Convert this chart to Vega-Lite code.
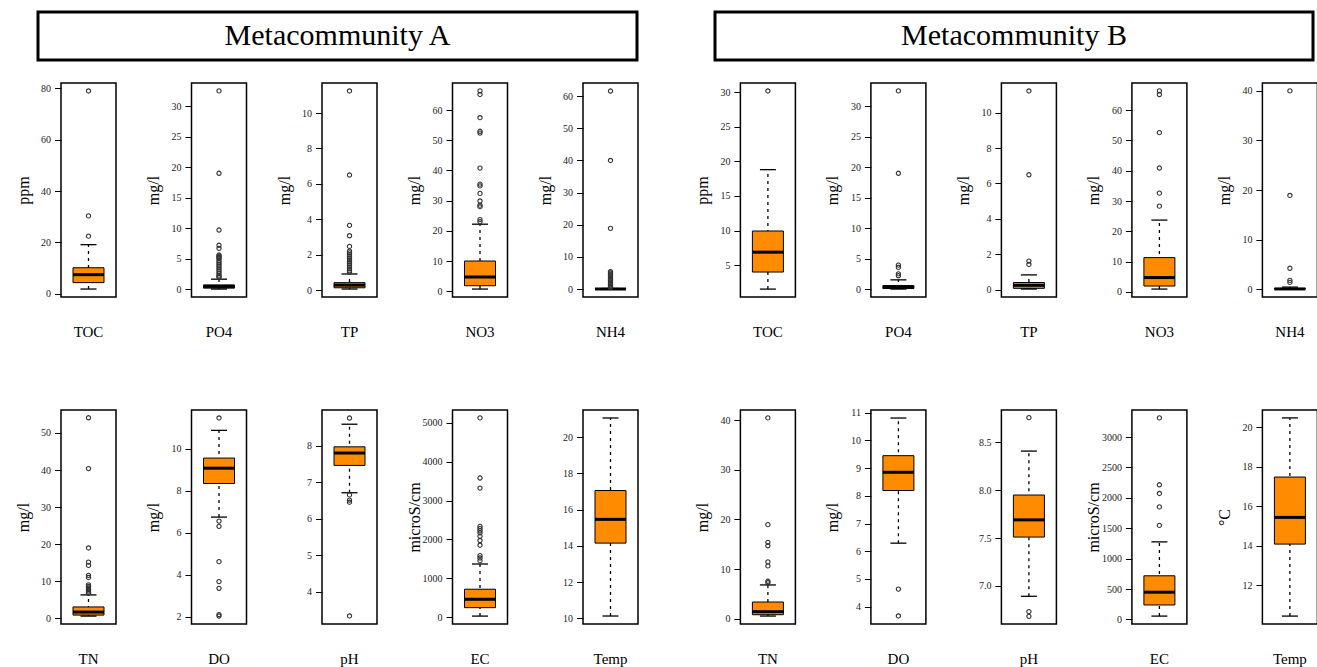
{
"$schema": "https://vega.github.io/schema/vega-lite/v6.json",
"padding": {"left": 14, "top": 10, "right": 0, "bottom": 0},
"background": "white",
"datasets": {"box": [
{"group":"A","variable":"TOC","part":"range","value":1.8,"value2":19.1},
{"group":"A","variable":"TOC","part":"box","value":4.3,"value2":10.1},
{"group":"A","variable":"TOC","part":"median","value":7.4},
{"group":"A","variable":"TOC","part":"cap","value":1.8},
{"group":"A","variable":"TOC","part":"cap","value":19.1},
{"group":"A","variable":"TOC","part":"outlier","value":79.0},
{"group":"A","variable":"TOC","part":"outlier","value":30.3},
{"group":"A","variable":"TOC","part":"outlier","value":22.4},
{"group":"A","variable":"PO4","part":"range","value":0.02,"value2":1.64},
{"group":"A","variable":"PO4","part":"box","value":0.17,"value2":0.7},
{"group":"A","variable":"PO4","part":"median","value":0.45},
{"group":"A","variable":"PO4","part":"cap","value":0.02},
{"group":"A","variable":"PO4","part":"cap","value":1.64},
{"group":"A","variable":"PO4","part":"outlier","value":32.5},
{"group":"A","variable":"PO4","part":"outlier","value":19.0},
{"group":"A","variable":"PO4","part":"outlier","value":9.7},
{"group":"A","variable":"PO4","part":"outlier","value":7.2},
{"group":"A","variable":"PO4","part":"outlier","value":6.7},
{"group":"A","variable":"PO4","part":"outlier","value":5.6},
{"group":"A","variable":"PO4","part":"outlier","value":5.4},
{"group":"A","variable":"PO4","part":"outlier","value":5.2},
{"group":"A","variable":"PO4","part":"outlier","value":5.0},
{"group":"A","variable":"PO4","part":"outlier","value":4.7},
{"group":"A","variable":"PO4","part":"outlier","value":4.4},
{"group":"A","variable":"PO4","part":"outlier","value":4.1},
{"group":"A","variable":"PO4","part":"outlier","value":3.8},
{"group":"A","variable":"PO4","part":"outlier","value":3.5},
{"group":"A","variable":"PO4","part":"outlier","value":3.2},
{"group":"A","variable":"PO4","part":"outlier","value":2.9},
{"group":"A","variable":"PO4","part":"outlier","value":2.6},
{"group":"A","variable":"PO4","part":"outlier","value":2.3},
{"group":"A","variable":"PO4","part":"outlier","value":2.1},
{"group":"A","variable":"PO4","part":"outlier","value":1.9},
{"group":"A","variable":"TP","part":"range","value":0.06,"value2":0.91},
{"group":"A","variable":"TP","part":"box","value":0.13,"value2":0.42},
{"group":"A","variable":"TP","part":"median","value":0.28},
{"group":"A","variable":"TP","part":"cap","value":0.06},
{"group":"A","variable":"TP","part":"cap","value":0.91},
{"group":"A","variable":"TP","part":"outlier","value":11.25},
{"group":"A","variable":"TP","part":"outlier","value":6.5},
{"group":"A","variable":"TP","part":"outlier","value":3.66},
{"group":"A","variable":"TP","part":"outlier","value":3.07},
{"group":"A","variable":"TP","part":"outlier","value":2.47},
{"group":"A","variable":"TP","part":"outlier","value":2.2},
{"group":"A","variable":"TP","part":"outlier","value":2.1},
{"group":"A","variable":"TP","part":"outlier","value":2.0},
{"group":"A","variable":"TP","part":"outlier","value":1.9},
{"group":"A","variable":"TP","part":"outlier","value":1.8},
{"group":"A","variable":"TP","part":"outlier","value":1.7},
{"group":"A","variable":"TP","part":"outlier","value":1.6},
{"group":"A","variable":"TP","part":"outlier","value":1.5},
{"group":"A","variable":"TP","part":"outlier","value":1.4},
{"group":"A","variable":"TP","part":"outlier","value":1.3},
{"group":"A","variable":"TP","part":"outlier","value":1.2},
{"group":"A","variable":"TP","part":"outlier","value":1.1},
{"group":"A","variable":"TP","part":"outlier","value":1.0},
{"group":"A","variable":"NO3","part":"range","value":0.7,"value2":22.2},
{"group":"A","variable":"NO3","part":"box","value":1.8,"value2":10.0},
{"group":"A","variable":"NO3","part":"median","value":4.7},
{"group":"A","variable":"NO3","part":"cap","value":0.7},
{"group":"A","variable":"NO3","part":"cap","value":22.2},
{"group":"A","variable":"NO3","part":"outlier","value":66.4},
{"group":"A","variable":"NO3","part":"outlier","value":65.2},
{"group":"A","variable":"NO3","part":"outlier","value":57.5},
{"group":"A","variable":"NO3","part":"outlier","value":53.0},
{"group":"A","variable":"NO3","part":"outlier","value":52.4},
{"group":"A","variable":"NO3","part":"outlier","value":40.8},
{"group":"A","variable":"NO3","part":"outlier","value":35.5},
{"group":"A","variable":"NO3","part":"outlier","value":34.9},
{"group":"A","variable":"NO3","part":"outlier","value":32.4},
{"group":"A","variable":"NO3","part":"outlier","value":29.9},
{"group":"A","variable":"NO3","part":"outlier","value":28.5},
{"group":"A","variable":"NO3","part":"outlier","value":28.0},
{"group":"A","variable":"NO3","part":"outlier","value":23.7},
{"group":"A","variable":"NO3","part":"outlier","value":23.0},
{"group":"A","variable":"NH4","part":"range","value":0.0,"value2":0.18},
{"group":"A","variable":"NH4","part":"box","value":0.01,"value2":0.08},
{"group":"A","variable":"NH4","part":"median","value":0.03},
{"group":"A","variable":"NH4","part":"cap","value":0.0},
{"group":"A","variable":"NH4","part":"cap","value":0.18},
{"group":"A","variable":"NH4","part":"outlier","value":61.6},
{"group":"A","variable":"NH4","part":"outlier","value":40.0},
{"group":"A","variable":"NH4","part":"outlier","value":18.9},
{"group":"A","variable":"NH4","part":"outlier","value":5.4},
{"group":"A","variable":"NH4","part":"outlier","value":5.0},
{"group":"A","variable":"NH4","part":"outlier","value":4.6},
{"group":"A","variable":"NH4","part":"outlier","value":4.2},
{"group":"A","variable":"NH4","part":"outlier","value":3.8},
{"group":"A","variable":"NH4","part":"outlier","value":3.4},
{"group":"A","variable":"NH4","part":"outlier","value":3.0},
{"group":"A","variable":"NH4","part":"outlier","value":2.6},
{"group":"A","variable":"NH4","part":"outlier","value":2.2},
{"group":"A","variable":"NH4","part":"outlier","value":1.8},
{"group":"A","variable":"NH4","part":"outlier","value":1.4},
{"group":"A","variable":"NH4","part":"outlier","value":1.0},
{"group":"A","variable":"NH4","part":"outlier","value":0.7},
{"group":"A","variable":"NH4","part":"outlier","value":0.45},
{"group":"B","variable":"TOC","part":"range","value":1.57,"value2":18.8},
{"group":"B","variable":"TOC","part":"box","value":4.03,"value2":9.95},
{"group":"B","variable":"TOC","part":"median","value":6.9},
{"group":"B","variable":"TOC","part":"cap","value":1.57},
{"group":"B","variable":"TOC","part":"cap","value":18.8},
{"group":"B","variable":"TOC","part":"outlier","value":30.15},
{"group":"B","variable":"PO4","part":"range","value":0.02,"value2":1.53},
{"group":"B","variable":"PO4","part":"box","value":0.11,"value2":0.6},
{"group":"B","variable":"PO4","part":"median","value":0.33},
{"group":"B","variable":"PO4","part":"cap","value":0.02},
{"group":"B","variable":"PO4","part":"cap","value":1.53},
{"group":"B","variable":"PO4","part":"outlier","value":32.5},
{"group":"B","variable":"PO4","part":"outlier","value":19.0},
{"group":"B","variable":"PO4","part":"outlier","value":3.94},
{"group":"B","variable":"PO4","part":"outlier","value":3.56},
{"group":"B","variable":"PO4","part":"outlier","value":2.5},
{"group":"B","variable":"PO4","part":"outlier","value":2.2},
{"group":"B","variable":"TP","part":"range","value":0.03,"value2":0.83},
{"group":"B","variable":"TP","part":"box","value":0.07,"value2":0.4},
{"group":"B","variable":"TP","part":"median","value":0.24},
{"group":"B","variable":"TP","part":"cap","value":0.03},
{"group":"B","variable":"TP","part":"cap","value":0.83},
{"group":"B","variable":"TP","part":"outlier","value":11.23},
{"group":"B","variable":"TP","part":"outlier","value":6.49},
{"group":"B","variable":"TP","part":"outlier","value":1.61},
{"group":"B","variable":"TP","part":"outlier","value":1.42},
{"group":"B","variable":"NO3","part":"range","value":0.9,"value2":23.7},
{"group":"B","variable":"NO3","part":"box","value":1.9,"value2":11.3},
{"group":"B","variable":"NO3","part":"median","value":4.7},
{"group":"B","variable":"NO3","part":"cap","value":0.9},
{"group":"B","variable":"NO3","part":"cap","value":23.7},
{"group":"B","variable":"NO3","part":"outlier","value":66.4},
{"group":"B","variable":"NO3","part":"outlier","value":65.2},
{"group":"B","variable":"NO3","part":"outlier","value":52.6},
{"group":"B","variable":"NO3","part":"outlier","value":40.9},
{"group":"B","variable":"NO3","part":"outlier","value":32.6},
{"group":"B","variable":"NO3","part":"outlier","value":28.3},
{"group":"B","variable":"NH4","part":"range","value":0.0,"value2":0.4},
{"group":"B","variable":"NH4","part":"box","value":0.01,"value2":0.12},
{"group":"B","variable":"NH4","part":"median","value":0.03},
{"group":"B","variable":"NH4","part":"cap","value":0.0},
{"group":"B","variable":"NH4","part":"cap","value":0.4},
{"group":"B","variable":"NH4","part":"outlier","value":40.0},
{"group":"B","variable":"NH4","part":"outlier","value":18.9},
{"group":"B","variable":"NH4","part":"outlier","value":4.2},
{"group":"B","variable":"NH4","part":"outlier","value":1.75},
{"group":"B","variable":"NH4","part":"outlier","value":1.35},
{"group":"A","variable":"TN","part":"range","value":0.63,"value2":6.34},
{"group":"A","variable":"TN","part":"box","value":0.9,"value2":3.1},
{"group":"A","variable":"TN","part":"median","value":1.72},
{"group":"A","variable":"TN","part":"cap","value":0.63},
{"group":"A","variable":"TN","part":"cap","value":6.34},
{"group":"A","variable":"TN","part":"outlier","value":54.1},
{"group":"A","variable":"TN","part":"outlier","value":40.4},
{"group":"A","variable":"TN","part":"outlier","value":19.0},
{"group":"A","variable":"TN","part":"outlier","value":15.2},
{"group":"A","variable":"TN","part":"outlier","value":14.3},
{"group":"A","variable":"TN","part":"outlier","value":11.6},
{"group":"A","variable":"TN","part":"outlier","value":11.05},
{"group":"A","variable":"TN","part":"outlier","value":9.06},
{"group":"A","variable":"TN","part":"outlier","value":8.6},
{"group":"A","variable":"TN","part":"outlier","value":8.2},
{"group":"A","variable":"TN","part":"outlier","value":7.8},
{"group":"A","variable":"TN","part":"outlier","value":7.4},
{"group":"A","variable":"TN","part":"outlier","value":7.0},
{"group":"A","variable":"TN","part":"outlier","value":6.8},
{"group":"A","variable":"DO","part":"range","value":6.74,"value2":10.87},
{"group":"A","variable":"DO","part":"box","value":8.34,"value2":9.55},
{"group":"A","variable":"DO","part":"median","value":9.07},
{"group":"A","variable":"DO","part":"cap","value":6.74},
{"group":"A","variable":"DO","part":"cap","value":10.87},
{"group":"A","variable":"DO","part":"outlier","value":11.46},
{"group":"A","variable":"DO","part":"outlier","value":6.55},
{"group":"A","variable":"DO","part":"outlier","value":6.3},
{"group":"A","variable":"DO","part":"outlier","value":4.62},
{"group":"A","variable":"DO","part":"outlier","value":3.67},
{"group":"A","variable":"DO","part":"outlier","value":3.35},
{"group":"A","variable":"DO","part":"outlier","value":2.1},
{"group":"A","variable":"DO","part":"outlier","value":2.03},
{"group":"A","variable":"pH","part":"range","value":6.71,"value2":8.59},
{"group":"A","variable":"pH","part":"box","value":7.46,"value2":7.97},
{"group":"A","variable":"pH","part":"median","value":7.8},
{"group":"A","variable":"pH","part":"cap","value":6.71},
{"group":"A","variable":"pH","part":"cap","value":8.59},
{"group":"A","variable":"pH","part":"outlier","value":8.76},
{"group":"A","variable":"pH","part":"outlier","value":6.65},
{"group":"A","variable":"pH","part":"outlier","value":6.51},
{"group":"A","variable":"pH","part":"outlier","value":6.45},
{"group":"A","variable":"pH","part":"outlier","value":3.33},
{"group":"A","variable":"EC","part":"range","value":34,"value2":1371},
{"group":"A","variable":"EC","part":"box","value":250,"value2":724},
{"group":"A","variable":"EC","part":"median","value":466},
{"group":"A","variable":"EC","part":"cap","value":34},
{"group":"A","variable":"EC","part":"cap","value":1371},
{"group":"A","variable":"EC","part":"outlier","value":5121},
{"group":"A","variable":"EC","part":"outlier","value":3578},
{"group":"A","variable":"EC","part":"outlier","value":3319},
{"group":"A","variable":"EC","part":"outlier","value":2336},
{"group":"A","variable":"EC","part":"outlier","value":2280},
{"group":"A","variable":"EC","part":"outlier","value":2225},
{"group":"A","variable":"EC","part":"outlier","value":2172},
{"group":"A","variable":"EC","part":"outlier","value":2086},
{"group":"A","variable":"EC","part":"outlier","value":1974},
{"group":"A","variable":"EC","part":"outlier","value":1853},
{"group":"A","variable":"EC","part":"outlier","value":1586},
{"group":"A","variable":"EC","part":"outlier","value":1526},
{"group":"A","variable":"EC","part":"outlier","value":1457},
{"group":"A","variable":"Temp","part":"range","value":10.13,"value2":21.05},
{"group":"A","variable":"Temp","part":"box","value":14.15,"value2":17.05},
{"group":"A","variable":"Temp","part":"median","value":15.46},
{"group":"A","variable":"Temp","part":"cap","value":10.13},
{"group":"A","variable":"Temp","part":"cap","value":21.05},
{"group":"B","variable":"TN","part":"range","value":0.54,"value2":6.81},
{"group":"B","variable":"TN","part":"box","value":0.81,"value2":3.37},
{"group":"B","variable":"TN","part":"median","value":1.42},
{"group":"B","variable":"TN","part":"cap","value":0.54},
{"group":"B","variable":"TN","part":"cap","value":6.81},
{"group":"B","variable":"TN","part":"outlier","value":40.46},
{"group":"B","variable":"TN","part":"outlier","value":18.95},
{"group":"B","variable":"TN","part":"outlier","value":15.4},
{"group":"B","variable":"TN","part":"outlier","value":14.7},
{"group":"B","variable":"TN","part":"outlier","value":11.46},
{"group":"B","variable":"TN","part":"outlier","value":10.65},
{"group":"B","variable":"TN","part":"outlier","value":7.55},
{"group":"B","variable":"TN","part":"outlier","value":7.25},
{"group":"B","variable":"DO","part":"range","value":6.29,"value2":10.81},
{"group":"B","variable":"DO","part":"box","value":8.19,"value2":9.45},
{"group":"B","variable":"DO","part":"median","value":8.85},
{"group":"B","variable":"DO","part":"cap","value":6.29},
{"group":"B","variable":"DO","part":"cap","value":10.81},
{"group":"B","variable":"DO","part":"outlier","value":4.63},
{"group":"B","variable":"DO","part":"outlier","value":3.66},
{"group":"B","variable":"pH","part":"range","value":6.89,"value2":8.41},
{"group":"B","variable":"pH","part":"box","value":7.51,"value2":7.95},
{"group":"B","variable":"pH","part":"median","value":7.69},
{"group":"B","variable":"pH","part":"cap","value":6.89},
{"group":"B","variable":"pH","part":"cap","value":8.41},
{"group":"B","variable":"pH","part":"outlier","value":8.76},
{"group":"B","variable":"pH","part":"outlier","value":6.73},
{"group":"B","variable":"pH","part":"outlier","value":6.68},
{"group":"B","variable":"EC","part":"range","value":55,"value2":1276},
{"group":"B","variable":"EC","part":"box","value":238,"value2":718},
{"group":"B","variable":"EC","part":"median","value":448},
{"group":"B","variable":"EC","part":"cap","value":55},
{"group":"B","variable":"EC","part":"cap","value":1276},
{"group":"B","variable":"EC","part":"outlier","value":3315},
{"group":"B","variable":"EC","part":"outlier","value":2215},
{"group":"B","variable":"EC","part":"outlier","value":2072},
{"group":"B","variable":"EC","part":"outlier","value":1851},
{"group":"B","variable":"EC","part":"outlier","value":1547},
{"group":"B","variable":"Temp","part":"range","value":10.44,"value2":20.46},
{"group":"B","variable":"Temp","part":"box","value":14.08,"value2":17.47},
{"group":"B","variable":"Temp","part":"median","value":15.43},
{"group":"B","variable":"Temp","part":"cap","value":10.44},
{"group":"B","variable":"Temp","part":"cap","value":20.46}
]},
"spacing": 20,
"vconcat": [
{"spacing": 74, "hconcat": [
  {"width": 599, "height": 48, "view": {"stroke": "black", "strokeWidth": 3}, "data": {"values": [{"label": "Metacommunity A"}]}, "mark": {"type": "text", "fontSize": 30, "font": "Liberation Serif", "color": "black"}, "encoding": {"text": {"field": "label"}}},
  {"width": 598, "height": 48, "view": {"stroke": "black", "strokeWidth": 3}, "data": {"values": [{"label": "Metacommunity B"}]}, "mark": {"type": "text", "fontSize": 30, "font": "Liberation Serif", "color": "black"}, "encoding": {"text": {"field": "label"}}}
]},
{"spacing": -25, "hconcat": [
 {"width": 1, "height": 1, "view": {"stroke": null}, "data": {"values": []}, "mark": "text"},
 {"spacing": 67, "vconcat": [
 {"spacing": 54.4, "hconcat": [
  {"spacing": 75.5, "bounds": "flush", "hconcat": [
   {"width":55,"height":214,"data":{"name":"box"},"transform":[{"filter":"datum.group=='A' && datum.variable=='TOC'"}],"encoding":{"x":{"field":"variable","type":"nominal","title":null,"scale":{"paddingInner":0,"paddingOuter":0}},"y":{"field":"value","type":"quantitative","scale":{"domain":[-1.3,82.1],"nice":false,"zero":false},"axis":{"values":[0,20,40,60,80],"format":"d","title":"ppm"}}},"layer":[{"transform":[{"filter":"datum.part=='range'"}],"mark":{"type":"rule","strokeDash":[3,4],"strokeWidth":1.3,"color":"black","opacity":1},"encoding":{"y2":{"field":"value2"}}},{"transform":[{"filter":"datum.part=='box'"}],"mark":{"type":"bar","size":31,"fill":"#FF8C00","stroke":"black","strokeWidth":1,"opacity":1},"encoding":{"y2":{"field":"value2"}}},{"transform":[{"filter":"datum.part=='median'"}],"mark":{"type":"tick","size":31,"thickness":3,"color":"black","opacity":1}},{"transform":[{"filter":"datum.part=='cap'"}],"mark":{"type":"tick","size":16,"thickness":1.3,"color":"black","opacity":1}},{"transform":[{"filter":"datum.part=='outlier'"}],"mark":{"type":"point","shape":"circle","filled":false,"size":18,"strokeWidth":1.1,"color":"#333","opacity":1}}]},
   {"width":55,"height":214,"data":{"name":"box"},"transform":[{"filter":"datum.group=='A' && datum.variable=='PO4'"}],"encoding":{"x":{"field":"variable","type":"nominal","title":null,"scale":{"paddingInner":0,"paddingOuter":0}},"y":{"field":"value","type":"quantitative","scale":{"domain":[-1.28,33.8],"nice":false,"zero":false},"axis":{"values":[0,5,10,15,20,25,30],"format":"d","title":"mg/l"}}},"layer":[{"transform":[{"filter":"datum.part=='range'"}],"mark":{"type":"rule","strokeDash":[3,4],"strokeWidth":1.3,"color":"black","opacity":1},"encoding":{"y2":{"field":"value2"}}},{"transform":[{"filter":"datum.part=='box'"}],"mark":{"type":"bar","size":31,"fill":"#FF8C00","stroke":"black","strokeWidth":1,"opacity":1},"encoding":{"y2":{"field":"value2"}}},{"transform":[{"filter":"datum.part=='median'"}],"mark":{"type":"tick","size":31,"thickness":3,"color":"black","opacity":1}},{"transform":[{"filter":"datum.part=='cap'"}],"mark":{"type":"tick","size":16,"thickness":1.3,"color":"black","opacity":1}},{"transform":[{"filter":"datum.part=='outlier'"}],"mark":{"type":"point","shape":"circle","filled":false,"size":18,"strokeWidth":1.1,"color":"#333","opacity":1}}]},
   {"width":55,"height":214,"data":{"name":"box"},"transform":[{"filter":"datum.group=='A' && datum.variable=='TP'"}],"encoding":{"x":{"field":"variable","type":"nominal","title":null,"scale":{"paddingInner":0,"paddingOuter":0}},"y":{"field":"value","type":"quantitative","scale":{"domain":[-0.39,11.7],"nice":false,"zero":false},"axis":{"values":[0,2,4,6,8,10],"format":"d","title":"mg/l"}}},"layer":[{"transform":[{"filter":"datum.part=='range'"}],"mark":{"type":"rule","strokeDash":[3,4],"strokeWidth":1.3,"color":"black","opacity":1},"encoding":{"y2":{"field":"value2"}}},{"transform":[{"filter":"datum.part=='box'"}],"mark":{"type":"bar","size":31,"fill":"#FF8C00","stroke":"black","strokeWidth":1,"opacity":1},"encoding":{"y2":{"field":"value2"}}},{"transform":[{"filter":"datum.part=='median'"}],"mark":{"type":"tick","size":31,"thickness":3,"color":"black","opacity":1}},{"transform":[{"filter":"datum.part=='cap'"}],"mark":{"type":"tick","size":16,"thickness":1.3,"color":"black","opacity":1}},{"transform":[{"filter":"datum.part=='outlier'"}],"mark":{"type":"point","shape":"circle","filled":false,"size":18,"strokeWidth":1.1,"color":"#333","opacity":1}}]},
   {"width":55,"height":214,"data":{"name":"box"},"transform":[{"filter":"datum.group=='A' && datum.variable=='NO3'"}],"encoding":{"x":{"field":"variable","type":"nominal","title":null,"scale":{"paddingInner":0,"paddingOuter":0}},"y":{"field":"value","type":"quantitative","scale":{"domain":[-1.93,69.0],"nice":false,"zero":false},"axis":{"values":[0,10,20,30,40,50,60],"format":"d","title":"mg/l"}}},"layer":[{"transform":[{"filter":"datum.part=='range'"}],"mark":{"type":"rule","strokeDash":[3,4],"strokeWidth":1.3,"color":"black","opacity":1},"encoding":{"y2":{"field":"value2"}}},{"transform":[{"filter":"datum.part=='box'"}],"mark":{"type":"bar","size":31,"fill":"#FF8C00","stroke":"black","strokeWidth":1,"opacity":1},"encoding":{"y2":{"field":"value2"}}},{"transform":[{"filter":"datum.part=='median'"}],"mark":{"type":"tick","size":31,"thickness":3,"color":"black","opacity":1}},{"transform":[{"filter":"datum.part=='cap'"}],"mark":{"type":"tick","size":16,"thickness":1.3,"color":"black","opacity":1}},{"transform":[{"filter":"datum.part=='outlier'"}],"mark":{"type":"point","shape":"circle","filled":false,"size":18,"strokeWidth":1.1,"color":"#333","opacity":1}}]},
   {"width":55,"height":214,"data":{"name":"box"},"transform":[{"filter":"datum.group=='A' && datum.variable=='NH4'"}],"encoding":{"x":{"field":"variable","type":"nominal","title":null,"scale":{"paddingInner":0,"paddingOuter":0}},"y":{"field":"value","type":"quantitative","scale":{"domain":[-2.46,64.1],"nice":false,"zero":false},"axis":{"values":[0,10,20,30,40,50,60],"format":"d","title":"mg/l"}}},"layer":[{"transform":[{"filter":"datum.part=='range'"}],"mark":{"type":"rule","strokeDash":[3,4],"strokeWidth":1.3,"color":"black","opacity":1},"encoding":{"y2":{"field":"value2"}}},{"transform":[{"filter":"datum.part=='box'"}],"mark":{"type":"bar","size":31,"fill":"#FF8C00","stroke":"black","strokeWidth":1,"opacity":1},"encoding":{"y2":{"field":"value2"}}},{"transform":[{"filter":"datum.part=='median'"}],"mark":{"type":"tick","size":31,"thickness":3,"color":"black","opacity":1}},{"transform":[{"filter":"datum.part=='cap'"}],"mark":{"type":"tick","size":16,"thickness":1.3,"color":"black","opacity":1}},{"transform":[{"filter":"datum.part=='outlier'"}],"mark":{"type":"point","shape":"circle","filled":false,"size":18,"strokeWidth":1.1,"color":"#333","opacity":1}}]}
  ]},
  {"spacing": 75.5, "bounds": "flush", "hconcat": [
   {"width":55,"height":214,"data":{"name":"box"},"transform":[{"filter":"datum.group=='B' && datum.variable=='TOC'"}],"encoding":{"x":{"field":"variable","type":"nominal","title":null,"scale":{"paddingInner":0,"paddingOuter":0}},"y":{"field":"value","type":"quantitative","scale":{"domain":[0.43,31.3],"nice":false,"zero":false},"axis":{"values":[5,10,15,20,25,30],"format":"d","title":"ppm"}}},"layer":[{"transform":[{"filter":"datum.part=='range'"}],"mark":{"type":"rule","strokeDash":[3,4],"strokeWidth":1.3,"color":"black","opacity":1},"encoding":{"y2":{"field":"value2"}}},{"transform":[{"filter":"datum.part=='box'"}],"mark":{"type":"bar","size":31,"fill":"#FF8C00","stroke":"black","strokeWidth":1,"opacity":1},"encoding":{"y2":{"field":"value2"}}},{"transform":[{"filter":"datum.part=='median'"}],"mark":{"type":"tick","size":31,"thickness":3,"color":"black","opacity":1}},{"transform":[{"filter":"datum.part=='cap'"}],"mark":{"type":"tick","size":16,"thickness":1.3,"color":"black","opacity":1}},{"transform":[{"filter":"datum.part=='outlier'"}],"mark":{"type":"point","shape":"circle","filled":false,"size":18,"strokeWidth":1.1,"color":"#333","opacity":1}}]},
   {"width":55,"height":214,"data":{"name":"box"},"transform":[{"filter":"datum.group=='B' && datum.variable=='PO4'"}],"encoding":{"x":{"field":"variable","type":"nominal","title":null,"scale":{"paddingInner":0,"paddingOuter":0}},"y":{"field":"value","type":"quantitative","scale":{"domain":[-1.28,33.8],"nice":false,"zero":false},"axis":{"values":[0,5,10,15,20,25,30],"format":"d","title":"mg/l"}}},"layer":[{"transform":[{"filter":"datum.part=='range'"}],"mark":{"type":"rule","strokeDash":[3,4],"strokeWidth":1.3,"color":"black","opacity":1},"encoding":{"y2":{"field":"value2"}}},{"transform":[{"filter":"datum.part=='box'"}],"mark":{"type":"bar","size":31,"fill":"#FF8C00","stroke":"black","strokeWidth":1,"opacity":1},"encoding":{"y2":{"field":"value2"}}},{"transform":[{"filter":"datum.part=='median'"}],"mark":{"type":"tick","size":31,"thickness":3,"color":"black","opacity":1}},{"transform":[{"filter":"datum.part=='cap'"}],"mark":{"type":"tick","size":16,"thickness":1.3,"color":"black","opacity":1}},{"transform":[{"filter":"datum.part=='outlier'"}],"mark":{"type":"point","shape":"circle","filled":false,"size":18,"strokeWidth":1.1,"color":"#333","opacity":1}}]},
   {"width":55,"height":214,"data":{"name":"box"},"transform":[{"filter":"datum.group=='B' && datum.variable=='TP'"}],"encoding":{"x":{"field":"variable","type":"nominal","title":null,"scale":{"paddingInner":0,"paddingOuter":0}},"y":{"field":"value","type":"quantitative","scale":{"domain":[-0.42,11.68],"nice":false,"zero":false},"axis":{"values":[0,2,4,6,8,10],"format":"d","title":"mg/l"}}},"layer":[{"transform":[{"filter":"datum.part=='range'"}],"mark":{"type":"rule","strokeDash":[3,4],"strokeWidth":1.3,"color":"black","opacity":1},"encoding":{"y2":{"field":"value2"}}},{"transform":[{"filter":"datum.part=='box'"}],"mark":{"type":"bar","size":31,"fill":"#FF8C00","stroke":"black","strokeWidth":1,"opacity":1},"encoding":{"y2":{"field":"value2"}}},{"transform":[{"filter":"datum.part=='median'"}],"mark":{"type":"tick","size":31,"thickness":3,"color":"black","opacity":1}},{"transform":[{"filter":"datum.part=='cap'"}],"mark":{"type":"tick","size":16,"thickness":1.3,"color":"black","opacity":1}},{"transform":[{"filter":"datum.part=='outlier'"}],"mark":{"type":"point","shape":"circle","filled":false,"size":18,"strokeWidth":1.1,"color":"#333","opacity":1}}]},
   {"width":55,"height":214,"data":{"name":"box"},"transform":[{"filter":"datum.group=='B' && datum.variable=='NO3'"}],"encoding":{"x":{"field":"variable","type":"nominal","title":null,"scale":{"paddingInner":0,"paddingOuter":0}},"y":{"field":"value","type":"quantitative","scale":{"domain":[-1.72,69.0],"nice":false,"zero":false},"axis":{"values":[0,10,20,30,40,50,60],"format":"d","title":"mg/l"}}},"layer":[{"transform":[{"filter":"datum.part=='range'"}],"mark":{"type":"rule","strokeDash":[3,4],"strokeWidth":1.3,"color":"black","opacity":1},"encoding":{"y2":{"field":"value2"}}},{"transform":[{"filter":"datum.part=='box'"}],"mark":{"type":"bar","size":31,"fill":"#FF8C00","stroke":"black","strokeWidth":1,"opacity":1},"encoding":{"y2":{"field":"value2"}}},{"transform":[{"filter":"datum.part=='median'"}],"mark":{"type":"tick","size":31,"thickness":3,"color":"black","opacity":1}},{"transform":[{"filter":"datum.part=='cap'"}],"mark":{"type":"tick","size":16,"thickness":1.3,"color":"black","opacity":1}},{"transform":[{"filter":"datum.part=='outlier'"}],"mark":{"type":"point","shape":"circle","filled":false,"size":18,"strokeWidth":1.1,"color":"#333","opacity":1}}]},
   {"width":55,"height":214,"data":{"name":"box"},"transform":[{"filter":"datum.group=='B' && datum.variable=='NH4'"}],"encoding":{"x":{"field":"variable","type":"nominal","title":null,"scale":{"paddingInner":0,"paddingOuter":0}},"y":{"field":"value","type":"quantitative","scale":{"domain":[-1.6,41.6],"nice":false,"zero":false},"axis":{"values":[0,10,20,30,40],"format":"d","title":"mg/l"}}},"layer":[{"transform":[{"filter":"datum.part=='range'"}],"mark":{"type":"rule","strokeDash":[3,4],"strokeWidth":1.3,"color":"black","opacity":1},"encoding":{"y2":{"field":"value2"}}},{"transform":[{"filter":"datum.part=='box'"}],"mark":{"type":"bar","size":31,"fill":"#FF8C00","stroke":"black","strokeWidth":1,"opacity":1},"encoding":{"y2":{"field":"value2"}}},{"transform":[{"filter":"datum.part=='median'"}],"mark":{"type":"tick","size":31,"thickness":3,"color":"black","opacity":1}},{"transform":[{"filter":"datum.part=='cap'"}],"mark":{"type":"tick","size":16,"thickness":1.3,"color":"black","opacity":1}},{"transform":[{"filter":"datum.part=='outlier'"}],"mark":{"type":"point","shape":"circle","filled":false,"size":18,"strokeWidth":1.1,"color":"#333","opacity":1}}]}
  ]}
 ]},
 {"spacing": 54.4, "hconcat": [
  {"spacing": 75.5, "bounds": "flush", "hconcat": [
   {"width":55,"height":214,"data":{"name":"box"},"transform":[{"filter":"datum.group=='A' && datum.variable=='TN'"}],"encoding":{"x":{"field":"variable","type":"nominal","title":null,"scale":{"paddingInner":0,"paddingOuter":0}},"y":{"field":"value","type":"quantitative","scale":{"domain":[-1.5,56.2],"nice":false,"zero":false},"axis":{"values":[0,10,20,30,40,50],"format":"d","title":"mg/l"}}},"layer":[{"transform":[{"filter":"datum.part=='range'"}],"mark":{"type":"rule","strokeDash":[3,4],"strokeWidth":1.3,"color":"black","opacity":1},"encoding":{"y2":{"field":"value2"}}},{"transform":[{"filter":"datum.part=='box'"}],"mark":{"type":"bar","size":31,"fill":"#FF8C00","stroke":"black","strokeWidth":1,"opacity":1},"encoding":{"y2":{"field":"value2"}}},{"transform":[{"filter":"datum.part=='median'"}],"mark":{"type":"tick","size":31,"thickness":3,"color":"black","opacity":1}},{"transform":[{"filter":"datum.part=='cap'"}],"mark":{"type":"tick","size":16,"thickness":1.3,"color":"black","opacity":1}},{"transform":[{"filter":"datum.part=='outlier'"}],"mark":{"type":"point","shape":"circle","filled":false,"size":18,"strokeWidth":1.1,"color":"#333","opacity":1}}]},
   {"width":55,"height":214,"data":{"name":"box"},"transform":[{"filter":"datum.group=='A' && datum.variable=='DO'"}],"encoding":{"x":{"field":"variable","type":"nominal","title":null,"scale":{"paddingInner":0,"paddingOuter":0}},"y":{"field":"value","type":"quantitative","scale":{"domain":[1.65,11.84],"nice":false,"zero":false},"axis":{"values":[2,4,6,8,10],"format":"d","title":"mg/l"}}},"layer":[{"transform":[{"filter":"datum.part=='range'"}],"mark":{"type":"rule","strokeDash":[3,4],"strokeWidth":1.3,"color":"black","opacity":1},"encoding":{"y2":{"field":"value2"}}},{"transform":[{"filter":"datum.part=='box'"}],"mark":{"type":"bar","size":31,"fill":"#FF8C00","stroke":"black","strokeWidth":1,"opacity":1},"encoding":{"y2":{"field":"value2"}}},{"transform":[{"filter":"datum.part=='median'"}],"mark":{"type":"tick","size":31,"thickness":3,"color":"black","opacity":1}},{"transform":[{"filter":"datum.part=='cap'"}],"mark":{"type":"tick","size":16,"thickness":1.3,"color":"black","opacity":1}},{"transform":[{"filter":"datum.part=='outlier'"}],"mark":{"type":"point","shape":"circle","filled":false,"size":18,"strokeWidth":1.1,"color":"#333","opacity":1}}]},
   {"width":55,"height":214,"data":{"name":"box"},"transform":[{"filter":"datum.group=='A' && datum.variable=='pH'"}],"encoding":{"x":{"field":"variable","type":"nominal","title":null,"scale":{"paddingInner":0,"paddingOuter":0}},"y":{"field":"value","type":"quantitative","scale":{"domain":[3.11,8.98],"nice":false,"zero":false},"axis":{"values":[4,5,6,7,8],"format":"d","title":null}}},"layer":[{"transform":[{"filter":"datum.part=='range'"}],"mark":{"type":"rule","strokeDash":[3,4],"strokeWidth":1.3,"color":"black","opacity":1},"encoding":{"y2":{"field":"value2"}}},{"transform":[{"filter":"datum.part=='box'"}],"mark":{"type":"bar","size":31,"fill":"#FF8C00","stroke":"black","strokeWidth":1,"opacity":1},"encoding":{"y2":{"field":"value2"}}},{"transform":[{"filter":"datum.part=='median'"}],"mark":{"type":"tick","size":31,"thickness":3,"color":"black","opacity":1}},{"transform":[{"filter":"datum.part=='cap'"}],"mark":{"type":"tick","size":16,"thickness":1.3,"color":"black","opacity":1}},{"transform":[{"filter":"datum.part=='outlier'"}],"mark":{"type":"point","shape":"circle","filled":false,"size":18,"strokeWidth":1.1,"color":"#333","opacity":1}}]},
   {"width":55,"height":214,"data":{"name":"box"},"transform":[{"filter":"datum.group=='A' && datum.variable=='EC'"}],"encoding":{"x":{"field":"variable","type":"nominal","title":null,"scale":{"paddingInner":0,"paddingOuter":0}},"y":{"field":"value","type":"quantitative","scale":{"domain":[-169,5324],"nice":false,"zero":false},"axis":{"values":[0,1000,2000,3000,4000,5000],"format":"d","title":"microS/cm"}}},"layer":[{"transform":[{"filter":"datum.part=='range'"}],"mark":{"type":"rule","strokeDash":[3,4],"strokeWidth":1.3,"color":"black","opacity":1},"encoding":{"y2":{"field":"value2"}}},{"transform":[{"filter":"datum.part=='box'"}],"mark":{"type":"bar","size":31,"fill":"#FF8C00","stroke":"black","strokeWidth":1,"opacity":1},"encoding":{"y2":{"field":"value2"}}},{"transform":[{"filter":"datum.part=='median'"}],"mark":{"type":"tick","size":31,"thickness":3,"color":"black","opacity":1}},{"transform":[{"filter":"datum.part=='cap'"}],"mark":{"type":"tick","size":16,"thickness":1.3,"color":"black","opacity":1}},{"transform":[{"filter":"datum.part=='outlier'"}],"mark":{"type":"point","shape":"circle","filled":false,"size":18,"strokeWidth":1.1,"color":"#333","opacity":1}}]},
   {"width":55,"height":214,"data":{"name":"box"},"transform":[{"filter":"datum.group=='A' && datum.variable=='Temp'"}],"encoding":{"x":{"field":"variable","type":"nominal","title":null,"scale":{"paddingInner":0,"paddingOuter":0}},"y":{"field":"value","type":"quantitative","scale":{"domain":[9.69,21.49],"nice":false,"zero":false},"axis":{"values":[10,12,14,16,18,20],"format":"d","title":null}}},"layer":[{"transform":[{"filter":"datum.part=='range'"}],"mark":{"type":"rule","strokeDash":[3,4],"strokeWidth":1.3,"color":"black","opacity":1},"encoding":{"y2":{"field":"value2"}}},{"transform":[{"filter":"datum.part=='box'"}],"mark":{"type":"bar","size":31,"fill":"#FF8C00","stroke":"black","strokeWidth":1,"opacity":1},"encoding":{"y2":{"field":"value2"}}},{"transform":[{"filter":"datum.part=='median'"}],"mark":{"type":"tick","size":31,"thickness":3,"color":"black","opacity":1}},{"transform":[{"filter":"datum.part=='cap'"}],"mark":{"type":"tick","size":16,"thickness":1.3,"color":"black","opacity":1}}]}
  ]},
  {"spacing": 75.5, "bounds": "flush", "hconcat": [
   {"width":55,"height":214,"data":{"name":"box"},"transform":[{"filter":"datum.group=='B' && datum.variable=='TN'"}],"encoding":{"x":{"field":"variable","type":"nominal","title":null,"scale":{"paddingInner":0,"paddingOuter":0}},"y":{"field":"value","type":"quantitative","scale":{"domain":[-1.06,42.06],"nice":false,"zero":false},"axis":{"values":[0,10,20,30,40],"format":"d","title":"mg/l"}}},"layer":[{"transform":[{"filter":"datum.part=='range'"}],"mark":{"type":"rule","strokeDash":[3,4],"strokeWidth":1.3,"color":"black","opacity":1},"encoding":{"y2":{"field":"value2"}}},{"transform":[{"filter":"datum.part=='box'"}],"mark":{"type":"bar","size":31,"fill":"#FF8C00","stroke":"black","strokeWidth":1,"opacity":1},"encoding":{"y2":{"field":"value2"}}},{"transform":[{"filter":"datum.part=='median'"}],"mark":{"type":"tick","size":31,"thickness":3,"color":"black","opacity":1}},{"transform":[{"filter":"datum.part=='cap'"}],"mark":{"type":"tick","size":16,"thickness":1.3,"color":"black","opacity":1}},{"transform":[{"filter":"datum.part=='outlier'"}],"mark":{"type":"point","shape":"circle","filled":false,"size":18,"strokeWidth":1.1,"color":"#333","opacity":1}}]},
   {"width":55,"height":214,"data":{"name":"box"},"transform":[{"filter":"datum.group=='B' && datum.variable=='DO'"}],"encoding":{"x":{"field":"variable","type":"nominal","title":null,"scale":{"paddingInner":0,"paddingOuter":0}},"y":{"field":"value","type":"quantitative","scale":{"domain":[3.37,11.1],"nice":false,"zero":false},"axis":{"values":[4,5,6,7,8,9,10,11],"format":"d","title":"mg/l"}}},"layer":[{"transform":[{"filter":"datum.part=='range'"}],"mark":{"type":"rule","strokeDash":[3,4],"strokeWidth":1.3,"color":"black","opacity":1},"encoding":{"y2":{"field":"value2"}}},{"transform":[{"filter":"datum.part=='box'"}],"mark":{"type":"bar","size":31,"fill":"#FF8C00","stroke":"black","strokeWidth":1,"opacity":1},"encoding":{"y2":{"field":"value2"}}},{"transform":[{"filter":"datum.part=='median'"}],"mark":{"type":"tick","size":31,"thickness":3,"color":"black","opacity":1}},{"transform":[{"filter":"datum.part=='cap'"}],"mark":{"type":"tick","size":16,"thickness":1.3,"color":"black","opacity":1}},{"transform":[{"filter":"datum.part=='outlier'"}],"mark":{"type":"point","shape":"circle","filled":false,"size":18,"strokeWidth":1.1,"color":"#333","opacity":1}}]},
   {"width":55,"height":214,"data":{"name":"box"},"transform":[{"filter":"datum.group=='B' && datum.variable=='pH'"}],"encoding":{"x":{"field":"variable","type":"nominal","title":null,"scale":{"paddingInner":0,"paddingOuter":0}},"y":{"field":"value","type":"quantitative","scale":{"domain":[6.6,8.84],"nice":false,"zero":false},"axis":{"values":[7,7.5,8,8.5],"format":".1f","title":null}}},"layer":[{"transform":[{"filter":"datum.part=='range'"}],"mark":{"type":"rule","strokeDash":[3,4],"strokeWidth":1.3,"color":"black","opacity":1},"encoding":{"y2":{"field":"value2"}}},{"transform":[{"filter":"datum.part=='box'"}],"mark":{"type":"bar","size":31,"fill":"#FF8C00","stroke":"black","strokeWidth":1,"opacity":1},"encoding":{"y2":{"field":"value2"}}},{"transform":[{"filter":"datum.part=='median'"}],"mark":{"type":"tick","size":31,"thickness":3,"color":"black","opacity":1}},{"transform":[{"filter":"datum.part=='cap'"}],"mark":{"type":"tick","size":16,"thickness":1.3,"color":"black","opacity":1}},{"transform":[{"filter":"datum.part=='outlier'"}],"mark":{"type":"point","shape":"circle","filled":false,"size":18,"strokeWidth":1.1,"color":"#333","opacity":1}}]},
   {"width":55,"height":214,"data":{"name":"box"},"transform":[{"filter":"datum.group=='B' && datum.variable=='EC'"}],"encoding":{"x":{"field":"variable","type":"nominal","title":null,"scale":{"paddingInner":0,"paddingOuter":0}},"y":{"field":"value","type":"quantitative","scale":{"domain":[-75,3445],"nice":false,"zero":false},"axis":{"values":[0,500,1000,1500,2000,2500,3000],"format":"d","title":"microS/cm"}}},"layer":[{"transform":[{"filter":"datum.part=='range'"}],"mark":{"type":"rule","strokeDash":[3,4],"strokeWidth":1.3,"color":"black","opacity":1},"encoding":{"y2":{"field":"value2"}}},{"transform":[{"filter":"datum.part=='box'"}],"mark":{"type":"bar","size":31,"fill":"#FF8C00","stroke":"black","strokeWidth":1,"opacity":1},"encoding":{"y2":{"field":"value2"}}},{"transform":[{"filter":"datum.part=='median'"}],"mark":{"type":"tick","size":31,"thickness":3,"color":"black","opacity":1}},{"transform":[{"filter":"datum.part=='cap'"}],"mark":{"type":"tick","size":16,"thickness":1.3,"color":"black","opacity":1}},{"transform":[{"filter":"datum.part=='outlier'"}],"mark":{"type":"point","shape":"circle","filled":false,"size":18,"strokeWidth":1.1,"color":"#333","opacity":1}}]},
   {"width":55,"height":214,"data":{"name":"box"},"transform":[{"filter":"datum.group=='B' && datum.variable=='Temp'"}],"encoding":{"x":{"field":"variable","type":"nominal","title":null,"scale":{"paddingInner":0,"paddingOuter":0}},"y":{"field":"value","type":"quantitative","scale":{"domain":[10.04,20.86],"nice":false,"zero":false},"axis":{"values":[12,14,16,18,20],"format":"d","title":"°C"}}},"layer":[{"transform":[{"filter":"datum.part=='range'"}],"mark":{"type":"rule","strokeDash":[3,4],"strokeWidth":1.3,"color":"black","opacity":1},"encoding":{"y2":{"field":"value2"}}},{"transform":[{"filter":"datum.part=='box'"}],"mark":{"type":"bar","size":31,"fill":"#FF8C00","stroke":"black","strokeWidth":1,"opacity":1},"encoding":{"y2":{"field":"value2"}}},{"transform":[{"filter":"datum.part=='median'"}],"mark":{"type":"tick","size":31,"thickness":3,"color":"black","opacity":1}},{"transform":[{"filter":"datum.part=='cap'"}],"mark":{"type":"tick","size":16,"thickness":1.3,"color":"black","opacity":1}}]}
  ]}
 ]}
 ]}
]}
],
"config": {
  "font": "Liberation Serif",
  "view": {"stroke": "black", "strokeWidth": 1.5},
  "axis": {"grid": false, "labelFont": "Liberation Serif", "titleFont": "Liberation Serif"},
  "axisY": {"domain": false, "tickColor": "black", "tickSize": 6.5, "tickWidth": 1, "labelFontSize": 10, "labelColor": "#222", "labelPadding": 4, "minExtent": 20, "maxExtent": 20, "titlePadding": 10, "titleFontSize": 16, "titleFontWeight": "normal", "titleColor": "black", "labelFlush": false, "labelOverlap": false, "labelBound": false},
  "axisX": {"domain": false, "ticks": false, "tickSize": 0, "labelAngle": 0, "labelPadding": 27, "labelFontSize": 15, "labelColor": "black", "labelFlush": false}
}
}
